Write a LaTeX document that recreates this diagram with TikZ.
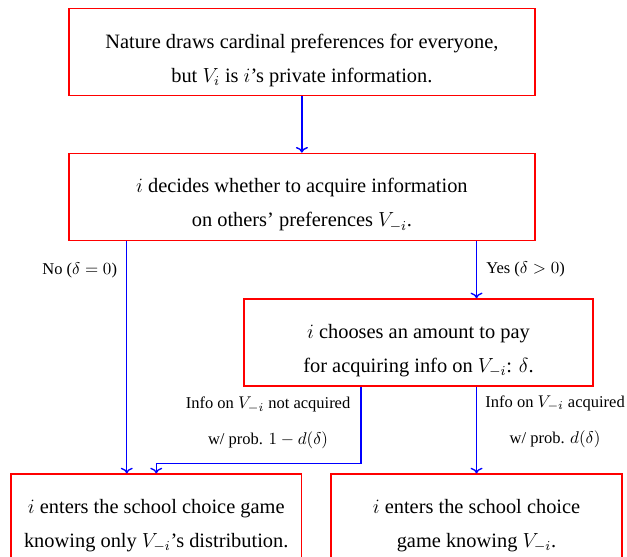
\documentclass[tikz,border=0pt]{standalone}
\usepackage{fontspec}
\setmainfont{Liberation Serif}
\usepackage{amsmath}
\usetikzlibrary{arrows.meta}

\begin{document}
\begin{tikzpicture}[
    stage/.style={draw=red, thick, rectangle, align=center, font=\large,
        minimum height=1.8cm, text height=38pt},
    flow/.style={->, blue, thick},
    branch/.style={align=center, text=black, font=\fontsize{9.7pt}{11.6pt}\selectfont}
]
    % Fix the page size
    \useasboundingbox (0,0) rectangle (12.96,-11.51);
    % Draw the stages
    \node[stage, minimum width=9.63cm] (nature) at (6.24,-1.075)
        {Nature draws cardinal preferences for everyone,\\[6pt]
         but $V_i$ is $i$'s private information.};
    \node[stage, minimum width=9.63cm] (decide) at (6.24,-4.07)
        {$i$ decides whether to acquire information\\[6pt]
         on others' preferences $V_{-i}$.};
    \node[stage, minimum width=7.21cm] (choose) at (8.65,-7.08)
        {$i$ chooses an amount to pay\\[6pt]
         for acquiring info on $V_{-i}$: $\delta$.};
    \node[stage, minimum width=6.01cm] (distr) at (3.23,-10.70)
        {$i$ enters the school choice game\\[6pt]
         knowing only $V_{-i}$'s distribution.};
    \node[stage, minimum width=6.01cm] (know) at (9.85,-10.70)
        {$i$ enters the school choice\\[6pt]
         game knowing $V_{-i}$.};
    % Draw the arrows
    \draw[flow] (nature) -- (decide);
    \draw[flow] ([xshift=-3.62cm]decide.south) -- ([xshift=-3.62cm]decide.south |- distr.north)
        node[branch, pos=0.124, left=2pt] {No ($\delta=0$)};
    \draw[flow] (decide.south -| know.north) -- (choose.north -| know.north)
        node[branch, midway, right=2pt] {Yes ($\delta>0$)};
    \draw[flow] ([xshift=-1.19cm]choose.south) -- ++(0,-1.59)
        node[branch, pos=0.47, left=2.5pt] {Info on $V_{-i}$ not acquired\\[9.5pt] w/ prob. $1-d(\delta)$}
        -| (distr.north);
    \draw[flow] (choose.south -| know.north) -- (know.north)
        node[branch, pos=0.4, right=1.5pt] {Info on $V_{-i}$ acquired\\[9.5pt] w/ prob. $d(\delta)$};
\end{tikzpicture}
\end{document}
